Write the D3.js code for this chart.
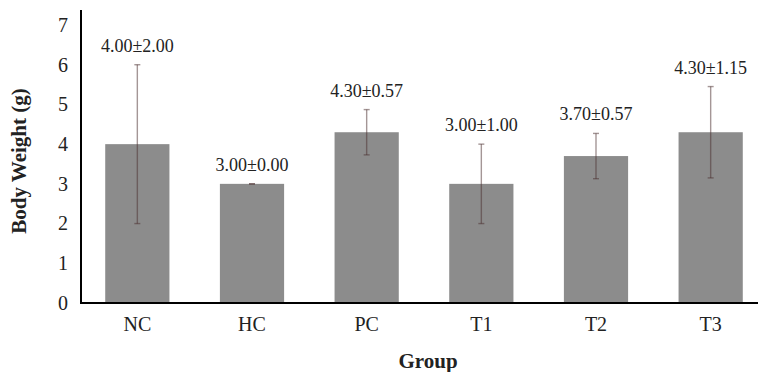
<!DOCTYPE html>
<html>
<head>
<meta charset="utf-8">
<script src="https://cdn.jsdelivr.net/npm/d3@7"></script>
<style>
  body { margin: 0; background: #fff; }
  text { font-family: "Liberation Serif", "Times New Roman", serif; }
</style>
</head>
<body>
<script>
var groups = ["NC", "HC", "PC", "T1", "T2", "T3"];
var means = [4.00, 3.00, 4.30, 3.00, 3.70, 4.30];
var sds = [2.00, 0.00, 0.57, 1.00, 0.57, 1.15];
var yTicks = [0, 1, 2, 3, 4, 5, 6, 7];

var width = 763, height = 372;
var svg = d3.select("body").append("svg")
  .attr("width", width)
  .attr("height", height);

var x = d3.scaleBand()
  .domain(groups)
  .range([80, 768])
  .paddingInner(0.44)
  .paddingOuter(0.22);

var y = d3.scaleLinear()
  .domain([0, 7])
  .range([303, 25]);

// bars
svg.selectAll("rect.bar")
  .data(groups)
  .enter()
  .append("rect")
    .attr("class", "bar")
    .attr("x", function(d){ return x(d); })
    .attr("y", function(d,i){ return y(means[i]); })
    .attr("width", x.bandwidth())
    .attr("height", function(d,i){ return y(0) - y(means[i]); })
    .attr("fill", "#8c8c8c");

// error bars (semi transparent so they look darker over the bar)
var err = svg.selectAll("g.err")
  .data(groups)
  .enter()
  .append("g")
    .attr("class", "err")
    .attr("stroke", "#4a2e2e")
    .attr("stroke-opacity", 0.5)
    .attr("stroke-width", 1.4);
err.append("line")
  .attr("x1", function(d){ return x(d) + x.bandwidth()/2; })
  .attr("x2", function(d){ return x(d) + x.bandwidth()/2; })
  .attr("y1", function(d,i){ return y(means[i] - sds[i]); })
  .attr("y2", function(d,i){ return y(means[i] + sds[i]); });
err.append("line")
  .attr("x1", function(d){ return x(d) + x.bandwidth()/2 - 3; })
  .attr("x2", function(d){ return x(d) + x.bandwidth()/2 + 3; })
  .attr("y1", function(d,i){ return y(means[i] + sds[i]); })
  .attr("y2", function(d,i){ return y(means[i] + sds[i]); });
err.append("line")
  .attr("x1", function(d){ return x(d) + x.bandwidth()/2 - 3; })
  .attr("x2", function(d){ return x(d) + x.bandwidth()/2 + 3; })
  .attr("y1", function(d,i){ return y(means[i] - sds[i]); })
  .attr("y2", function(d,i){ return y(means[i] - sds[i]); });

// value labels
svg.selectAll("text.val")
  .data(groups)
  .enter()
  .append("text")
    .attr("class", "val")
    .attr("x", function(d){ return x(d) + x.bandwidth()/2; })
    .attr("y", function(d,i){ return y(means[i] + sds[i]) - 13; })
    .attr("text-anchor", "middle")
    .attr("font-size", 18)
    .attr("fill", "#222")
    .text(function(d,i){ return means[i].toFixed(2) + "\u00b1" + sds[i].toFixed(2); });

// y axis
var yAxis = svg.append("g")
  .attr("transform", "translate(81,0)")
  .call(d3.axisLeft(y).tickValues(yTicks).tickFormat(d3.format("d")).tickSize(0).tickPadding(13));
yAxis.select(".domain").remove();
yAxis.selectAll("text")
  .attr("font-size", 20)
  .attr("fill", "#222");

svg.append("line")
  .attr("x1", 81).attr("x2", 81)
  .attr("y1", 10).attr("y2", 304)
  .attr("stroke", "#000").attr("stroke-width", 2);

// x axis
var xAxis = svg.append("g")
  .attr("transform", "translate(0,303)")
  .call(d3.axisBottom(x).tickSize(0).tickPadding(14));
xAxis.select(".domain").remove();
xAxis.selectAll("text")
  .attr("font-size", 20)
  .attr("fill", "#222");

svg.append("line")
  .attr("x1", 80).attr("x2", 758)
  .attr("y1", 303).attr("y2", 303)
  .attr("stroke", "#000").attr("stroke-width", 2);

// titles
svg.append("text")
  .attr("x", 428)
  .attr("y", 368)
  .attr("text-anchor", "middle")
  .attr("font-size", 21)
  .attr("font-weight", "bold")
  .attr("fill", "#222")
  .text("Group");

svg.append("text")
  .attr("transform", "translate(26,161) rotate(-90)")
  .attr("text-anchor", "middle")
  .attr("font-size", 21)
  .attr("font-weight", "bold")
  .attr("fill", "#222")
  .text("Body Weight (g)");
</script>
</body>
</html>
